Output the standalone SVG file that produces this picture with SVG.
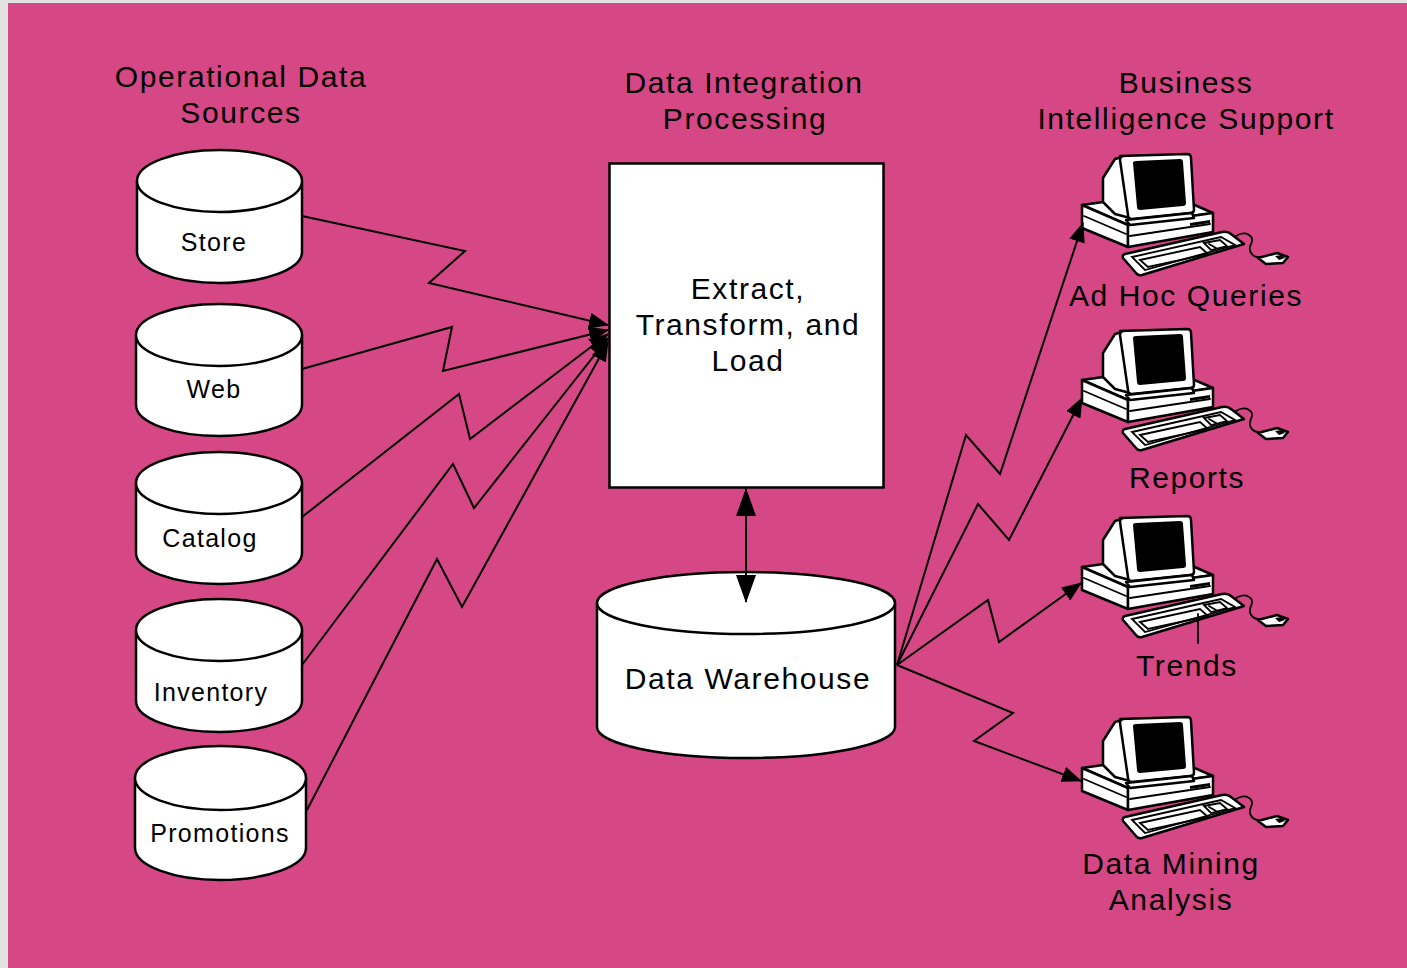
<svg xmlns="http://www.w3.org/2000/svg" xmlns:xlink="http://www.w3.org/1999/xlink" width="1407" height="968" viewBox="0 0 1407 968">
  <style>
    .shape { fill: #ffffff; stroke: #000000; stroke-width: 2.5; }
    .edge { fill: none; stroke: #000000; stroke-width: 2; stroke-linejoin: miter; }
    .title { font-family: "Liberation Sans", Arial, sans-serif; font-size: 30px; letter-spacing: 1.6px; fill: #000000; text-anchor: middle; }
    .label { font-family: "Liberation Sans", Arial, sans-serif; font-size: 25px; letter-spacing: 1.3px; fill: #000000; text-anchor: middle; }
    .pc-line { fill: #ffffff; stroke: #000000; stroke-width: 2.5; stroke-linejoin: round; }
    .pc-thin { fill: none; stroke: #000000; stroke-width: 1.8; stroke-linecap: round; }
  </style>
  <defs>
    <marker id="arrow" viewBox="0 0 20 16" refX="19" refY="8" markerWidth="20" markerHeight="16" markerUnits="userSpaceOnUse" orient="auto">
      <path d="M0,0 L20,8 L0,16 Z" fill="#000000"/>
    </marker>
    <marker id="arrowBig" viewBox="0 0 28 20" refX="27" refY="10" markerWidth="28" markerHeight="20" markerUnits="userSpaceOnUse" orient="auto-start-reverse">
      <path d="M0,0 L28,10 L0,20 Z" fill="#000000"/>
    </marker>
    <!-- desktop computer workstation icon -->
    <g id="pc">
      <!-- base unit -->
      <path class="pc-line" d="M12,55 L97,43 L143,63 L58,75 Z"/>
      <path class="pc-line" d="M12,55 L58,75 L58,97 L12,78 Z"/>
      <path class="pc-line" d="M58,75 L143,63 L143,82 L58,97 Z"/>
      <path class="pc-thin" d="M60,86 L140,74"/>
      <path class="pc-thin" d="M14,66 L56,84"/>
      <path d="M120,73 L140,70 L140,73 L120,76 Z" fill="#000000"/>
      <!-- monitor housing -->
      <path class="pc-line" d="M33,28 L45,9 L52,7 L60,68 L45,64 L33,52 Z"/>
      <path class="pc-line" d="M50,6 L117,4 Q121,4 121,8 L124,60 Q124,63 120,63 L62,69 Q58,69 58,65 L50,10 Q50,6 54,6 Z"/>
      <path d="M63,13 Q63,11 66,11 L110,9 Q113,9 113,12 L116,53 Q116,56 113,56 L70,60 Q67,60 67,57 Z" fill="#000000"/>
      <path class="pc-line" d="M56,70 L122,63 L124,68 L60,75 Z"/>
      <!-- keyboard -->
      <path class="pc-line" d="M55,104 L152,82 Q158,81 161,84 L174,94 L72,125 Q68,126 66,123 L53,108 Q52,105 55,104 Z"/>
      <path class="pc-thin" d="M62,107 L151,87 L165,95 L75,120 Z"/>
      <path class="pc-thin" d="M70,110 L130,97 L138,104 L78,117 Z"/>
      <path class="pc-thin" d="M134,93 L150,90 L157,96 L141,100 Z"/>
      <path class="pc-thin" d="M139,94 L146,98"/>
      <!-- cable and mouse -->
      <path class="pc-thin" d="M166,86 C176,80 185,86 181,94 C177,102 184,108 190,107"/>
      <path class="pc-line" d="M188,108 L207,103 L218,107 L213,113 L196,114 Z"/>
      <path d="M205,106 L212,105 L215,108 L209,110 Z" fill="#000000"/>
    </g>
  </defs>

  <!-- backdrop -->
  <rect x="0" y="0" width="1407" height="968" fill="#e2e2e2"/>
  <rect x="8" y="3" width="1399" height="965" fill="#d54785"/>

  <!-- column headings -->
  <g id="headings">
    <text class="title" x="241" y="87">Operational Data</text>
    <text class="title" x="241" y="123">Sources</text>
    <text class="title" x="744" y="93">Data Integration</text>
    <text class="title" x="745" y="129">Processing</text>
    <text class="title" x="1186" y="93">Business</text>
    <text class="title" x="1186" y="129">Intelligence Support</text>
  </g>

  <!-- operational data sources -->
  <g id="store">
    <path class="shape" d="M137,181 V252 A82.5,31 0 0 0 302,252 V181 A82.5,31 0 0 0 137,181 Z"/>
    <path class="shape" fill="none" d="M137,181 A82.5,31 0 0 0 302,181"/>
    <text class="label" x="214" y="251">Store</text>
  </g>
  <g id="web">
    <path class="shape" d="M136,335 V405 A83,31 0 0 0 302,405 V335 A83,31 0 0 0 136,335 Z"/>
    <path class="shape" fill="none" d="M136,335 A83,31 0 0 0 302,335"/>
    <text class="label" x="214" y="398">Web</text>
  </g>
  <g id="catalog">
    <path class="shape" d="M136,483 V553 A83,31 0 0 0 302,553 V483 A83,31 0 0 0 136,483 Z"/>
    <path class="shape" fill="none" d="M136,483 A83,31 0 0 0 302,483"/>
    <text class="label" x="210" y="547">Catalog</text>
  </g>
  <g id="inventory">
    <path class="shape" d="M136,630 V701 A83,31 0 0 0 302,701 V630 A83,31 0 0 0 136,630 Z"/>
    <path class="shape" fill="none" d="M136,630 A83,31 0 0 0 302,630"/>
    <text class="label" x="211" y="701">Inventory</text>
  </g>
  <g id="promotions">
    <path class="shape" d="M135,778 V848 A85.5,32 0 0 0 306,848 V778 A85.5,32 0 0 0 135,778 Z"/>
    <path class="shape" fill="none" d="M135,778 A85.5,32 0 0 0 306,778"/>
    <text class="label" x="220" y="842">Promotions</text>
  </g>

  <!-- integration -->
  <g id="etl">
    <rect class="shape" x="609.5" y="163.5" width="274" height="324"/>
    <text class="title" x="748" y="299">Extract,</text>
    <text class="title" x="748" y="335">Transform, and</text>
    <text class="title" x="748" y="371">Load</text>
  </g>
  <g id="warehouse">
    <path class="shape" d="M597,603 V727 A149,31 0 0 0 895,727 V603 A149,31 0 0 0 597,603 Z"/>
    <path class="shape" fill="none" d="M597,603 A149,31 0 0 0 895,603"/>
    <text class="title" x="748" y="689">Data Warehouse</text>
  </g>

  <!-- business intelligence clients -->
  <g id="adhoc">
    <use xlink:href="#pc" href="#pc" x="1070" y="150"/>
    <text class="title" x="1186" y="306">Ad Hoc Queries</text>
  </g>
  <g id="reports">
    <use xlink:href="#pc" href="#pc" x="1070" y="325"/>
    <text class="title" x="1187" y="488">Reports</text>
  </g>
  <g id="trends">
    <use xlink:href="#pc" href="#pc" x="1070" y="512"/>
    <path class="pc-thin" d="M1198,614 V643"/>
    <text class="title" x="1187" y="676">Trends</text>
  </g>
  <g id="mining">
    <use xlink:href="#pc" href="#pc" x="1070" y="713"/>
    <text class="title" x="1171" y="874">Data Mining</text>
    <text class="title" x="1171" y="910">Analysis</text>
  </g>

  <!-- connectors, drawn last so arrowheads sit on top of the shapes -->
  <g id="connectors">
    <path class="edge" marker-end="url(#arrow)" d="M302,216 L465,251 L429,283 L608,325"/>
    <path class="edge" marker-end="url(#arrow)" d="M302,369 L452,327 L443,371 L608,330"/>
    <path class="edge" marker-end="url(#arrow)" d="M302,517 L459,394 L470,439 L608,334"/>
    <path class="edge" marker-end="url(#arrow)" d="M302,665 L453,464 L474,508 L608,338"/>
    <path class="edge" marker-end="url(#arrow)" d="M307,810 L437,559 L462,607 L608,342"/>
    <path class="edge" marker-start="url(#arrowBig)" marker-end="url(#arrowBig)" d="M746,489 L746,602"/>
    <path class="edge" marker-end="url(#arrow)" d="M897,665 L966,435 L1000,474 L1083,223"/>
    <path class="edge" marker-end="url(#arrow)" d="M897,665 L978,504 L1009,540 L1082,398"/>
    <path class="edge" marker-end="url(#arrow)" d="M897,665 L988,600 L999,642 L1081,583"/>
    <path class="edge" marker-end="url(#arrow)" d="M897,665 L1013,713 L974,741 L1081,781"/>
  </g>
</svg>
